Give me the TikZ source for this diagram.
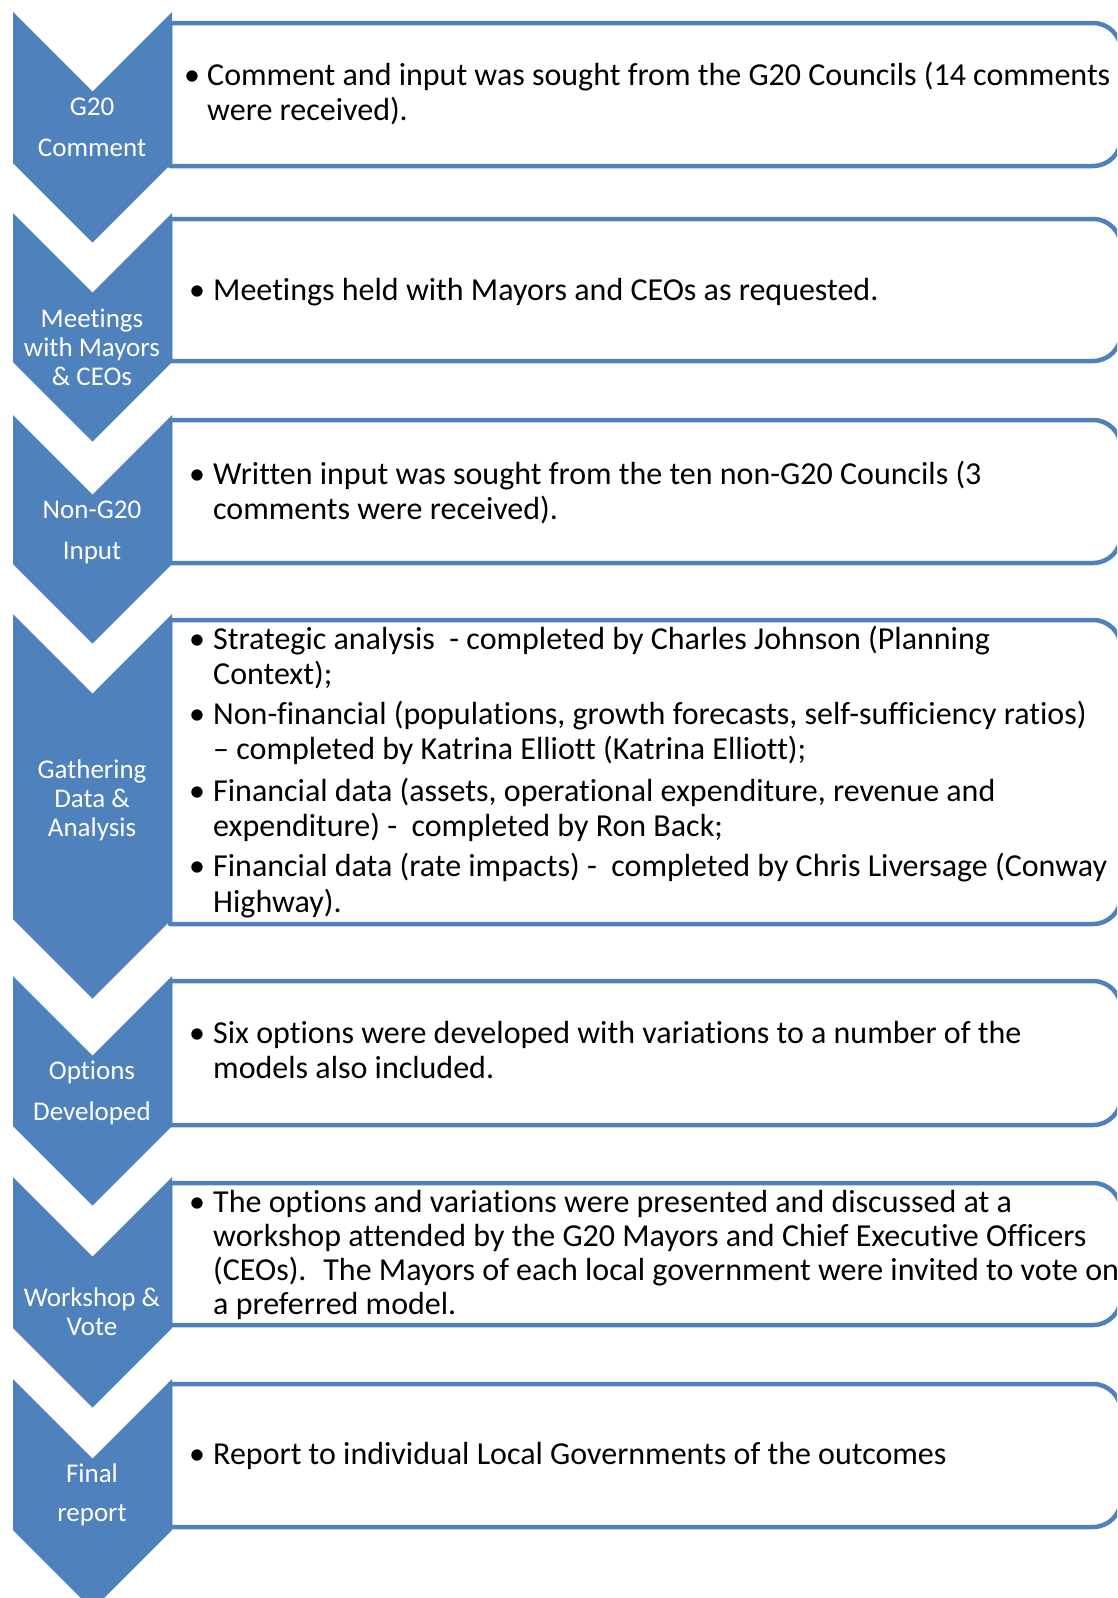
\documentclass[tikz,border=0pt]{standalone}
\usepackage{fontspec}
\setmainfont{Carlito}[Ligatures={NoCommon,TeX}]
\definecolor{stepblue}{HTML}{4F81BD}
\tikzset{
  chevfill/.style={fill=stepblue, draw=none},
  boxline/.style={draw=stepblue, line width=4.5pt, fill=white, line join=round},
  lbl/.style={text=white, anchor=base, inner sep=0pt, font=\fontsize{27}{30}\selectfont},
  bul/.style={anchor=base, inner sep=0pt, font=\fontsize{32}{36}\selectfont},
  txt/.style={anchor=base west, inner sep=0pt, font=\fontsize{32}{36}\selectfont},
}
% chevron: #1 top edge, #2 y where the sides end
\newcommand\mychev[2]{%
  \fill[chevfill] (13,#1) -- (92.5,#1+79.5) -- (172,#1) -- (172,#2)
    -- (92.5,#2+79.5) -- (13,#2) -- cycle;}
% box with rounded right corners (radius 28): #1 top, #2 bottom
\newcommand\mybox[2]{%
  \path[boxline] (170,#2) -- (170,#1) -- (1093,#1)
    .. controls (1108.5,#1) and (1121,#1+12.5) .. (1121,#1+28)
    -- (1121,#2-28)
    .. controls (1121,#2-12.5) and (1108.5,#2) .. (1093,#2) -- cycle;}
\begin{document}
\begin{tikzpicture}[x=1pt,y=-1pt]
\useasboundingbox (0,0) rectangle (1117,1598);
\begin{scope}
\clip (0,0) rectangle (1117,1598);
% boxes
\mybox{23}{166}
\mybox{219}{361}
\mybox{420}{563}
\mybox{620}{924}
\mybox{981}{1125}
\mybox{1183}{1325}
\mybox{1384}{1527}
% chevrons
\mychev{12}{163}
\mychev{213}{362}
\mychev{415}{564}
\mychev{614}{919}
\mychev{976}{1126}
\mychev{1177}{1328}
\mychev{1379}{1530}
\end{scope}
% step labels
\node[lbl] (l1a) at (92,115) {G20};
\node[lbl] (l1b) at (92,156) {Comment};
\node[lbl] (l2a) at (92,327) {Meetings};
\node[lbl] (l2b) at (92,356) {with Mayors};
\node[lbl] (l2c) at (92,385) {\& CEOs};
\node[lbl] (l3a) at (92,518) {Non-G20};
\node[lbl] (l3b) at (92,559) {Input};
\node[lbl] (l4a) at (92,778) {Gathering};
\node[lbl] (l4b) at (92,807) {Data \&};
\node[lbl] (l4c) at (92,836) {Analysis};
\node[lbl] (l5a) at (92,1079) {Options};
\node[lbl] (l5b) at (92,1120) {Developed};
\node[lbl] (l6a) at (92,1306) {Workshop \&};
\node[lbl] (l6b) at (92,1335) {Vote};
\node[lbl] (l7a) at (92,1482) {Final};
\node[lbl] (l7b) at (92,1521) {report};
% box 1
\node[bul] (b1) at (192,85) {•};
\node[txt] (t1a) at (207,85) {Comment and input was sought from the G20 Councils (14 comments};
\node[txt] (t1b) at (207,120) {were received).};
% box 2
\node[bul] (b2) at (197,300) {•};
\node[txt] (t2a) at (213,300) {Meetings held with Mayors and CEOs as requested.};
% box 3
\node[bul] (b3) at (197,484) {•};
\node[txt] (t3a) at (213,484) {Written input was sought from the ten non-G20 Councils (3};
\node[txt] (t3b) at (213,519) {comments were received).};
% box 4
\node[bul] (b4a) at (197,649) {•};
\node[txt] (t4a) at (213,649) {Strategic analysis~ - completed by Charles Johnson (Planning};
\node[txt] (t4b) at (213,684) {Context);};
\node[bul] (b4b) at (197,724) {•};
\node[txt] (t4c) at (213,724) {Non-financial (populations, growth forecasts, self-sufficiency ratios)};
\node[txt] (t4d) at (213,759) {– completed by Katrina Elliott (Katrina Elliott);};
\node[bul] (b4c) at (197,801) {•};
\node[txt] (t4e) at (213,801) {Financial data (assets, operational expenditure, revenue and};
\node[txt] (t4f) at (213,836) {expenditure) -~ completed by Ron Back;};
\node[bul] (b4d) at (197,876) {•};
\node[txt] (t4g) at (213,876) {Financial data (rate impacts) -~ completed by Chris Liversage (Conway};
\node[txt] (t4h) at (213,912) {Highway).};
% box 5
\node[bul] (b5) at (197,1043) {•};
\node[txt] (t5a) at (213,1043) {Six options were developed with variations to a number of the};
\node[txt] (t5b) at (213,1078) {models also included.};
% box 6
\node[bul] (b6) at (197,1212) {•};
\node[txt] (t6a) at (213,1212) {The options and variations were presented and discussed at a};
\node[txt] (t6b) at (213,1246) {workshop attended by the G20 Mayors and Chief Executive Officers};
\node[txt] (t6c) at (213,1280) {(CEOs).~ The Mayors of each local government were invited to vote on};
\node[txt] (t6d) at (213,1314) {a preferred model.};
% box 7
\node[bul] (b7) at (197,1464) {•};
\node[txt] (t7a) at (213,1464) {Report to individual Local Governments of the outcomes};
\end{tikzpicture}
\end{document}
